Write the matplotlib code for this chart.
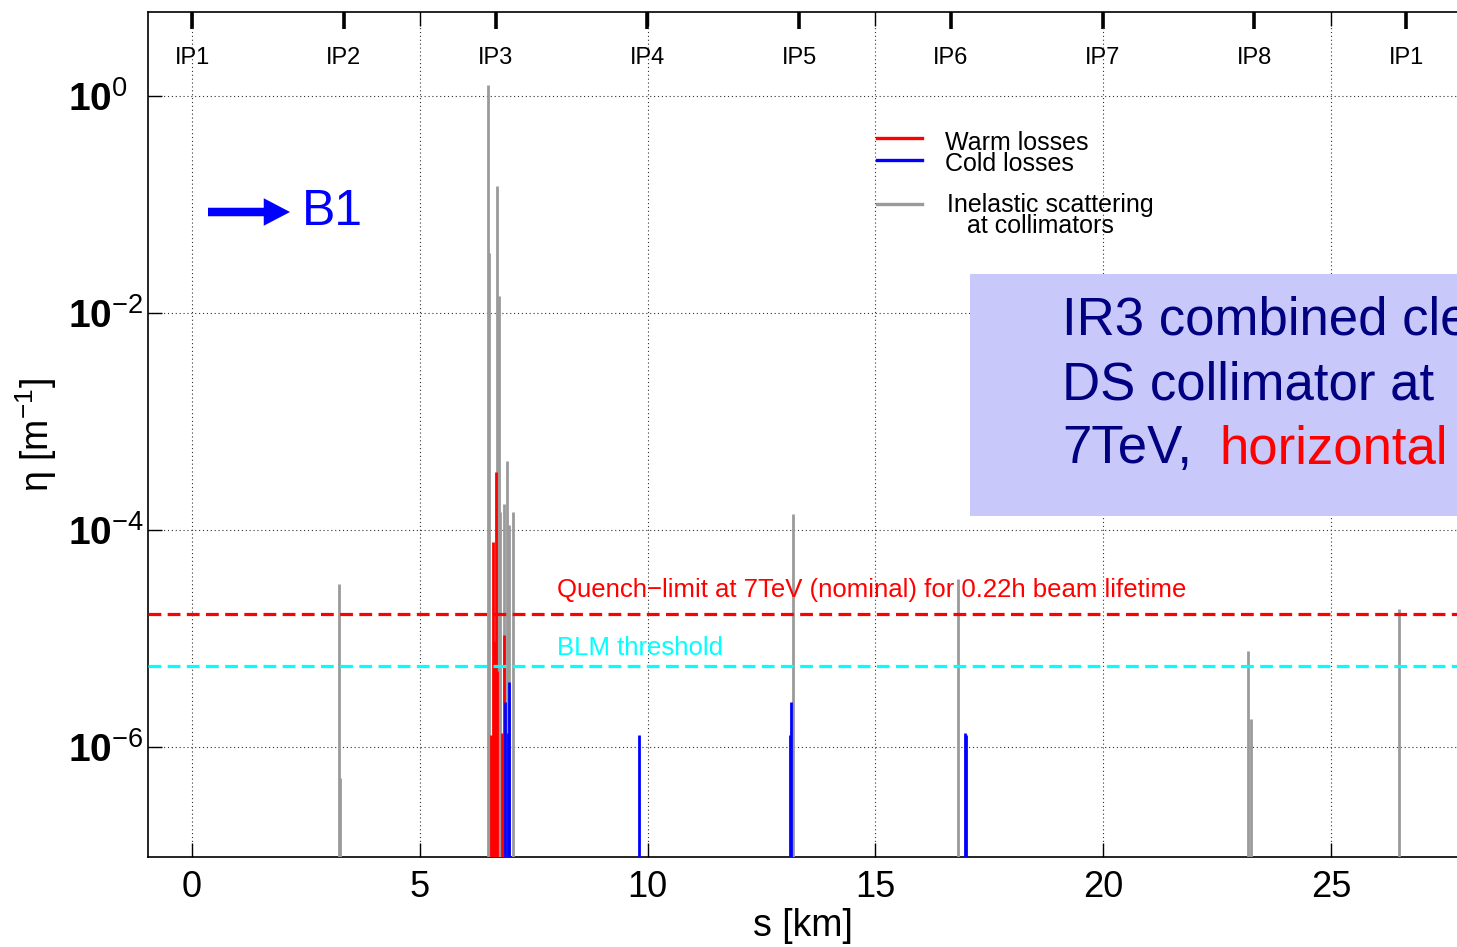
import matplotlib
matplotlib.use("Agg")
import matplotlib.pyplot as plt
from matplotlib.lines import Line2D
from matplotlib.patches import Rectangle
from matplotlib.ticker import NullLocator

plt.rcParams["font.family"] = ["Liberation Sans", "DejaVu Sans"]
plt.rcParams["mathtext.fontset"] = "custom"
plt.rcParams["mathtext.rm"] = "Liberation Sans"
plt.rcParams["mathtext.it"] = "Liberation Sans:italic"
plt.rcParams["mathtext.bf"] = "Liberation Sans:bold"

# ---- loss map data: position s [km] and local cleaning inefficiency eta [1/m] ----
inel_s = [3.22, 3.25, 6.49, 6.53, 6.69, 6.73, 6.76, 6.85, 6.92, 6.96, 7.05,
          13.19, 16.81, 23.19, 23.24, 26.50]
inel_eta = [3.2e-5, 5.2e-7, 1.25, 3.6e-2, 0.148, 1.44e-2, 1.45e-4, 1.74e-4,
            4.3e-4, 1.1e-4, 1.47e-4, 1.41e-4, 3.5e-5, 7.7e-6, 1.8e-6, 1.87e-5]

warm_s = [6.57, 6.61, 6.64, 6.66, 6.68, 6.70, 6.81, 6.84]
warm_eta = [1.3e-6, 7.8e-5, 9.3e-6, 9.3e-6, 3.4e-4, 5.0e-6, 1.35e-6, 1.07e-5]

cold_s = [6.87, 6.94, 6.96, 9.81, 13.13, 13.16, 16.98, 17.00]
cold_eta = [2.6e-6, 1.35e-6, 4.0e-6, 1.3e-6, 1.3e-6, 2.6e-6, 1.35e-6, 1.3e-6]

quench_limit = 1.68e-5
blm_threshold = 5.6e-6

ip_s = [0.0, 3.332, 6.664, 9.997, 13.329, 16.661, 19.994, 23.315, 26.659]
ip_labels = ["IP1", "IP2", "IP3", "IP4", "IP5", "IP6", "IP7", "IP8", "IP1"]

x_ticks = [0, 5, 10, 15, 20, 25]
y_ticks = [1e-6, 1e-4, 1e-2, 1e0]
y_tick_labels = [r"$\mathbf{10}^{-6}$", r"$\mathbf{10}^{-4}$",
                 r"$\mathbf{10}^{-2}$", r"$\mathbf{10}^{0}$"]

GRAY = "#9a9a9a"
RED = "#ff0000"
BLUE = "#0000ff"
CYAN = "#00ffff"
NAVY = "#000080"

W, H = 1457, 947
fig = plt.figure(figsize=(W / 100, H / 100), dpi=100)
ax = fig.add_axes([148 / W, (H - 857) / H, (W - 148) / W, 845 / H])

ax.set_yscale("log")
ax.set_xlim(-0.966, 27.77)
ax.set_ylim(10 ** -7.014, 10 ** 0.774)

# loss spikes
ymin = ax.get_ylim()[0]
ax.vlines(inel_s, ymin, inel_eta, colors=GRAY, linewidth=2.0, zorder=3)
ax.vlines(warm_s, ymin, warm_eta, colors=RED, linewidth=2.0, zorder=4)
ax.vlines(cold_s, ymin, cold_eta, colors=BLUE, linewidth=2.0, zorder=5)

# reference levels
ax.axhline(quench_limit, color=RED, linewidth=2.3, dashes=(4, 2), zorder=6)
ax.axhline(blm_threshold, color=CYAN, linewidth=2.3, dashes=(4, 2), zorder=6)
ax.text(8.01, 2.8e-5, "Quench\u2212limit at 7TeV (nominal) for 0.22h beam lifetime",
        color=RED, fontsize=18.5, va="center", ha="left", zorder=7)
ax.text(8.01, 8.2e-6, "BLM threshold", color=CYAN, fontsize=18.5,
        va="center", ha="left", zorder=7)

# axes styling
ax.set_xticks(x_ticks)
ax.set_xticklabels([str(v) for v in x_ticks])
ax.set_yticks(y_ticks)
ax.set_yticklabels(y_tick_labels)
ax.yaxis.set_minor_locator(NullLocator())
ax.xaxis.set_minor_locator(NullLocator())
ax.tick_params(axis="x", direction="in", length=10, width=1.0, labelsize=26,
               pad=9, top=True)
ax.tick_params(axis="y", direction="in", length=10, width=1.0, labelsize=28,
               pad=57.5)
for lbl in ax.get_yticklabels():
    lbl.set_horizontalalignment("left")
ax.spines["right"].set_visible(False)
for sp in ("left", "bottom", "top"):
    ax.spines[sp].set_linewidth(1.2)

ax.grid(True, which="major", color="#303030", linewidth=0.8,
        linestyle=(0, (1, 2.5)))
ax.set_axisbelow(True)

ax.set_xlabel("s [km]", fontsize=27)
ax.xaxis.set_label_coords(0.5, -0.060)
ax.set_ylabel("η [m$^{-1}$]", fontsize=27)
ax.yaxis.set_label_coords(-0.068, 0.5)

# interaction points on top
top = ax.secondary_xaxis("top")
top.set_xticks(ip_s)
top.tick_params(direction="in", length=12, width=2.6, labeltop=False)
top.spines["top"].set_visible(False)
for s, lab in zip(ip_s, ip_labels):
    ax.text(s, 0.946, lab, transform=ax.get_xaxis_transform(), fontsize=17,
            ha="center", va="center", zorder=7)


def fx(px):
    return px / W


def fy(py):
    return 1 - py / H


# legend
leg_rows = [(138, RED), (160, BLUE), (204, GRAY)]
for py, c in leg_rows:
    fig.add_artist(Line2D([fx(877), fx(922)], [fy(py), fy(py)], color=c,
                          linewidth=2.4, transform=fig.transFigure))
fig.text(fx(945), fy(143), "Warm losses", fontsize=18, va="center", ha="left")
fig.text(fx(945), fy(164), "Cold losses", fontsize=18, va="center", ha="left")
fig.text(fx(947), fy(205), "Inelastic scattering", fontsize=18, va="center", ha="left")
fig.text(fx(967), fy(226), "at collimators", fontsize=18, va="center", ha="left")

# beam direction
ax.annotate("", xy=(fx(290), fy(212)), xytext=(fx(208), fy(212)),
            xycoords="figure fraction", textcoords="figure fraction",
            arrowprops=dict(arrowstyle="simple,head_length=1.05,head_width=1.1,tail_width=0.34",
                            mutation_scale=18, color=BLUE, shrinkA=0, shrinkB=0,
                            linewidth=0))
fig.text(fx(302), fy(212), "B1", fontsize=36, color=BLUE, va="center", ha="left")

# configuration box
fig.add_artist(Rectangle((fx(970), fy(516)), fx(W - 970) + 0.01, (516 - 274) / H,
                         transform=fig.transFigure, facecolor="#c8c8fa",
                         edgecolor="none", zorder=8))
fig.text(fx(1062), fy(335), "IR3 combined cleaning", fontsize=38, color=NAVY,
         va="baseline", ha="left", zorder=9)
fig.text(fx(1062), fy(400), "DS collimator at", fontsize=38, color=NAVY,
         va="baseline", ha="left", zorder=9)
fig.text(fx(1062), fy(463), "7TeV,", fontsize=38, color=NAVY,
         va="baseline", ha="left", zorder=9)
fig.text(fx(1219), fy(463), "horizontal", fontsize=38, color=RED,
         va="baseline", ha="left", zorder=9)

fig.savefig("out.png", dpi=100)
